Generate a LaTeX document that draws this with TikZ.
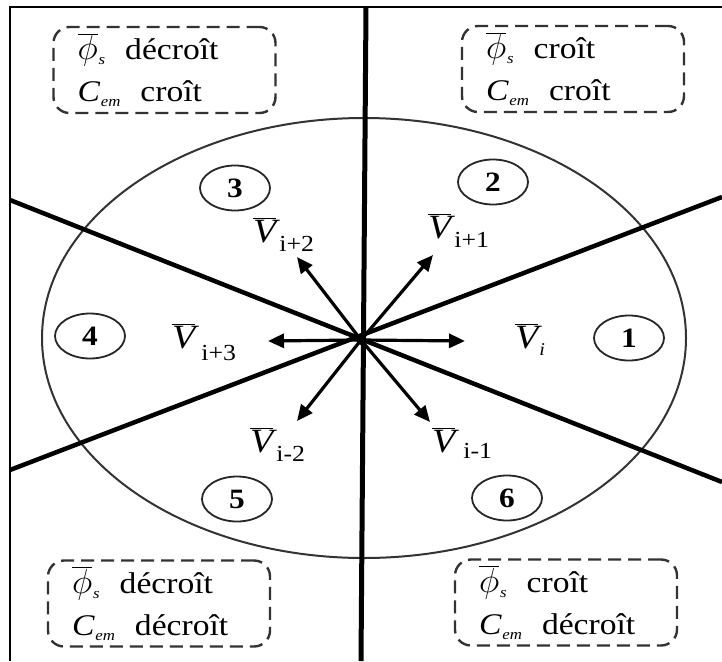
\documentclass[tikz,border=0pt]{standalone}
\usepackage{graphicx}
\usepackage{fontspec}
\setmainfont{Liberation Serif}[FakeStretch=1.12]
\usetikzlibrary{arrows.meta,shapes.geometric}
\newcommand{\vbar}[1]{\ensuremath{\overline{\hbox{\itshape #1}}}}
\newcommand{\phis}{$\overline{\hbox{\scalebox{1.4}{$\phi$}}}$\kern1pt\raisebox{-5pt}{\fontsize{15}{15}\selectfont\itshape s}}
\newcommand{\Cem}{{\itshape C}\kern1pt\raisebox{-5pt}{\fontsize{15}{15}\selectfont\itshape em}}
\newcommand{\vlab}[1]{\vbar{V}\kern3pt\raisebox{-9pt}{\fontsize{23}{23}\selectfont #1}}
\begin{document}
\begin{tikzpicture}[x=1pt,y=-1pt,
  statebox/.style={draw=black!80, line width=2.4pt, dash pattern=on 13pt off 7pt,
    rounded corners=16pt, minimum height=86pt, text width=174pt, inner xsep=24pt,
    inner ysep=0pt, align=left, font=\fontsize{30}{42}\selectfont},
  numc/.style={ellipse, draw=black!85, line width=1.8pt, minimum width=70pt,
    minimum height=45pt, inner sep=0pt, font=\fontsize{28}{28}\selectfont\bfseries},
  sector/.style={line width=4.5pt},
  vec/.style={line width=3.2pt, -{Triangle[length=16pt,width=14pt]}},
  vlabel/.style={anchor=base west, inner sep=0pt, font=\fontsize{34}{34}\selectfont}]
\useasboundingbox (0,0) rectangle (722,661);
% frame
\coordinate (FTL) at (10,7);
\coordinate (FBL) at (10,661);
\coordinate (FTR) at (722,7);
\draw[line width=2.5pt] (FBL) -- (FTL) -- (FTR);
% big circle (stretched)
\coordinate (C) at (364,338);
\draw[line width=2pt, black!80] (C) ellipse [x radius=322, y radius=220];
% sector lines
\coordinate (O) at (361,340);
\coordinate (VT) at (366,7);
\coordinate (VB) at (361,661);
\coordinate (A1) at (10,200);
\coordinate (A2) at (722,482);
\coordinate (B1) at (10,470);
\coordinate (B2) at (722,197);
\draw[line width=5pt] (VT) -- (VB);
\draw[sector] (A1) -- (A2);
\draw[sector] (B1) -- (B2);
% vectors
\coordinate (T0) at (465,341);
\coordinate (T1) at (433,255);
\coordinate (T2) at (297,257);
\coordinate (T3) at (268,341);
\coordinate (T4) at (297,421);
\coordinate (T5) at (430,422);
\foreach \t in {T0,T1,T2,T3,T4,T5} \draw[vec] (O) -- (\t);
\fill (O) circle (5pt);
% vector labels
\node[vlabel] (L0) at (515,348) {\vbar{V}\kern1pt\raisebox{-7pt}{\fontsize{18}{18}\selectfont\itshape i}};
\node[vlabel] (L1) at (428,238) {\vlab{i+1}};
\node[vlabel] (L2) at (253,242) {\vlab{i+2}};
\node[vlabel] (L3) at (172,348) {\vbar{V}\kern6pt\raisebox{-12pt}{\fontsize{23}{23}\selectfont i+3}};
\node[vlabel] (L4) at (250,452) {\vlab{i-2}};
\node[vlabel] (L5) at (432,452) {\vbar{V}\kern8pt\raisebox{-6pt}{\fontsize{23}{23}\selectfont i-1}};
% sector numbers
\node[numc] (N1) at (629,338) {1};
\node[numc] (N2) at (493,182) {2};
\node[numc] (N3) at (235,188) {3};
\node[numc] (N4) at (90,336) {4};
\node[numc] (N5) at (237,499) {5};
\node[numc] (N6) at (507,498) {6};
% state boxes
\node[statebox] (BTL) at (164.5,70) {\phis\ \ décroît\\\Cem\ \ croît};
\node[statebox] (BTR) at (573,69) {\phis\ \ croît\\\Cem\ \ croît};
\node[statebox] (BBL) at (159,603.5) {\phis\ \ décroît\\\Cem\ \ décroît};
\node[statebox] (BBR) at (566,602.5) {\phis\ \ croît\\\Cem\ \ décroît};
\end{tikzpicture}
\end{document}
